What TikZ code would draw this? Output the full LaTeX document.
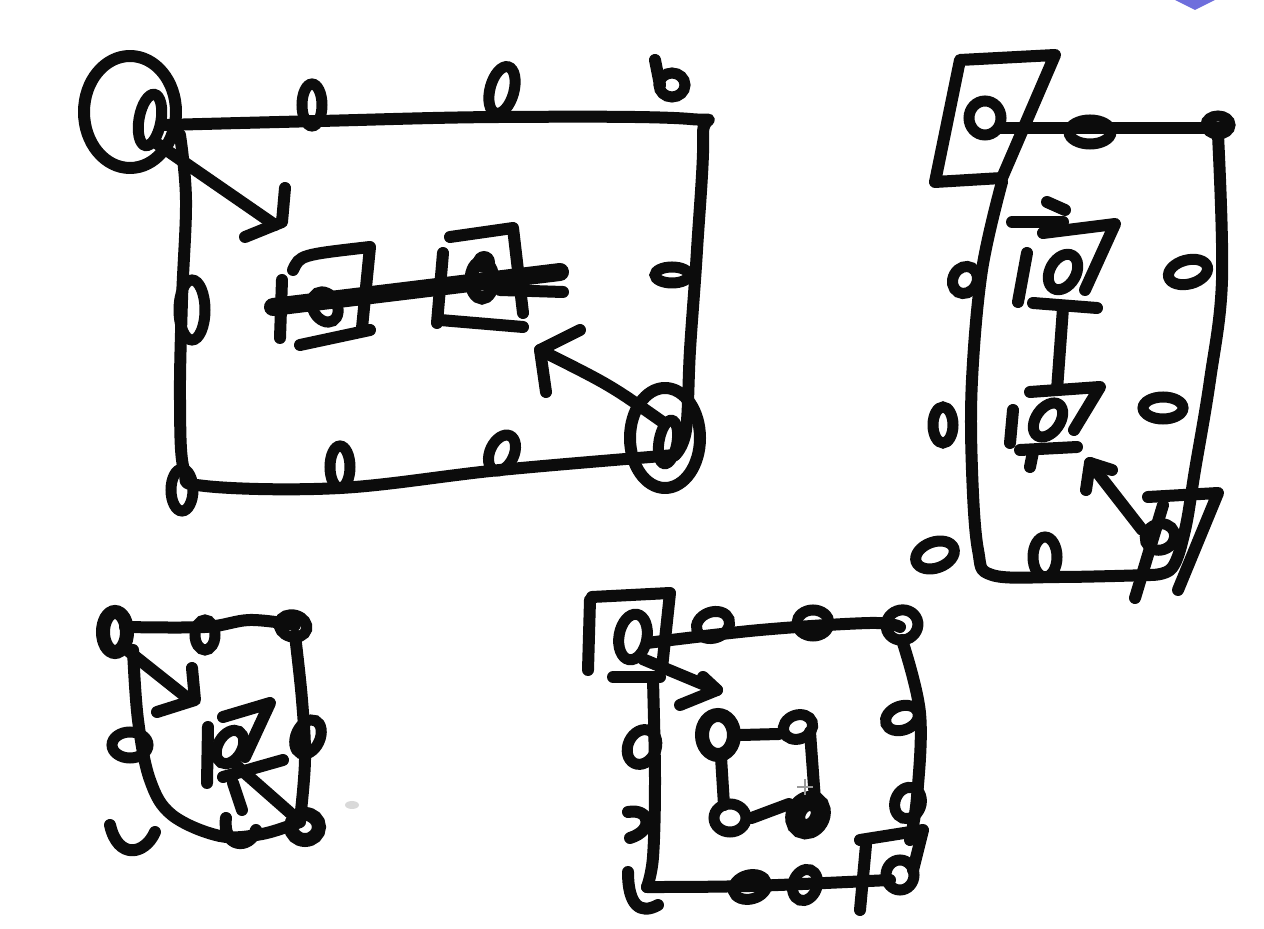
\documentclass[tikz,border=0pt]{standalone}
\usetikzlibrary{shapes.geometric}
\definecolor{ink}{RGB}{12,12,12}
\definecolor{logo}{RGB}{110,110,220}
\tikzset{
  pen/.style={draw=ink, line width=6pt, line cap=round, line join=round},
  zero/.style 2 args={ellipse, draw=ink, line width=5.5pt, inner sep=0pt,
     minimum width={#1*0.5pt}, minimum height={#2*0.5pt}},
}
\begin{document}
\begin{tikzpicture}[x=0.5pt,y=-0.5pt]
\useasboundingbox[fill=white] (0,0) rectangle (1264,929);
% ---------- corner marks ----------
\fill[logo] (1175,0) -- (1215,0) -- (1195,10) -- cycle;
\fill[black!15] (352,805) ellipse (7 and 4);
% ================= PANEL 1 =================
\draw[pen] (130,112) ellipse (46 and 56);
\node[zero={22}{52}, rotate=-10] (p1tl) at (150,120) {};
\draw[pen] plot[smooth, tension=0.6] coordinates {(165,125) (320,121) (500,117) (690,119) (703,135) (697,250) (690,350) (686,430) (675,455)};
\draw[pen] plot[smooth, tension=0.6] coordinates {(675,455) (500,470) (340,488) (205,486) (184,470) (180,400) (182,300) (186,200) (180,135)};
\node[zero={20}{42}] (p1t1) at (312,105) {};
\node[zero={24}{48}, rotate=-15] (p1t2) at (502,90) {};
\node[zero={26}{24}] (p1t3) at (672,85) {};
\draw[pen] (655,60) -- (660,85);
\node[zero={34}{16}] (p1r1) at (672,275) {};
\draw[pen] (665,438) ellipse (35 and 50);
\node[zero={18}{44}, rotate=-10] (p1br) at (668,442) {};
\node[zero={20}{42}] (p1b1) at (340,467) {};
\node[zero={24}{38}, rotate=-25] (p1b2) at (502,453) {};
\node[zero={22}{42}] (p1bl) at (182,490) {};
\node[zero={26}{60}] (p1l1) at (192,310) {};
% arrows
\draw[pen] (p1tl.south east) -- (275,225);
\draw[pen] (285,188) -- (282,222) -- (245,237);
\draw[pen] (p1br.north west) .. controls (610,385) .. (540,350);
\draw[pen] (580,330) -- (540,350) -- (546,392);
% inner squares
\draw[pen] (282,280) -- (280,338);
\draw[pen] (293,270) .. controls (300,255) .. (370,247) -- (362,328);
\draw[pen] (300,345) -- (370,330);
\node[zero={24}{32}, rotate=30] (p1s1) at (325,307) {};
\draw[pen] (443,253) -- (437,323);
\draw[pen] (450,237) -- (513,228) -- (523,313);
\draw[pen] (440,320) -- (523,327);
\node[zero={22}{36}, line width=6.5pt] (p1s2) at (482,280) {};
\fill[ink] (484,262) circle (11);
\draw[draw=ink, line width=9pt, line cap=round] (273,307) -- (560,272);
\draw[pen] (500,290) -- (563,292);
% ================= PANEL 2 =================
\draw[pen] (960,60) -- (1055,55) -- (1002,178) -- (935,182) -- cycle;
\node[zero={32}{34}] (p2tl) at (985,118) {};
\draw[pen] (1000,128) -- (1225,128);
\node[zero={42}{24}] (p2t1) at (1090,132) {};
\node[zero={24}{18}] (p2t2) at (1218,125) {};
\draw[pen] plot[smooth, tension=0.6] coordinates {(1218,135) (1222,280) (1210,380) (1195,470) (1185,530) (1172,568) (1150,575)};
\draw[pen] plot[smooth, tension=0.6] coordinates {(1150,575) (1060,577) (992,575) (978,550) (972,470) (972,380) (982,270) (1002,182)};
\node[zero={24}{28}, rotate=-30] (p2l1) at (965,280) {};
\node[zero={20}{36}] (p2l2) at (943,425) {};
\node[zero={40}{26}, rotate=20] (p2l3) at (935,555) {};
\node[zero={40}{24}, rotate=15] (p2r1) at (1188,272) {};
\node[zero={40}{22}] (p2r2) at (1163,408) {};
\node[zero={24}{40}] (p2b1) at (1045,557) {};
% inner squares
\draw[pen] (1012,222) -- (1063,222);
\draw[pen] (1047,202) -- (1065,210);
\draw[pen] (1043,233) -- (1115,224) -- (1085,290);
\draw[pen] (1027,253) -- (1018,302);
\node[zero={26}{38}, rotate=-30] (p2s1) at (1063,272) {};
\draw[pen] (1033,303) -- (1097,308);
\draw[pen] (1063,308) -- (1057,390);
\draw[pen] (1030,392) -- (1100,387) -- (1074,430);
\draw[pen] (1013,410) -- (1010,443);
\node[zero={24}{38}, rotate=-35] (p2s2) at (1048,420) {};
\draw[pen] (1020,450) -- (1077,447);
\draw[pen] (1033,452) -- (1030,467);
% bottom-right box and arrow
\draw[pen] (1148,497) -- (1218,493) -- (1178,590);
\draw[pen] (1163,505) -- (1135,598);
\node[zero={30}{26}, rotate=20] (p2br) at (1160,537) {};
\draw[pen] (p2br.north west) -- (1090,463);
\draw[pen] (1112,470) -- (1090,463) -- (1086,490);
% ================= PANEL 3 =================
\node[zero={24}{40}, line width=7pt] (p3tl) at (115,632) {};
\draw[pen] plot[smooth, tension=0.6] coordinates {(125,627) (205,627) (250,620) (295,625)};
\node[zero={20}{30}] (p3t1) at (205,635) {};
\node[zero={28}{22}, rotate=-15] (p3t2) at (293,626) {};
\draw[pen] plot[smooth, tension=0.6] coordinates {(295,635) (302,700) (305,760) (300,820)};
\draw[pen] plot[smooth, tension=0.6] coordinates {(133,650) (138,720) (150,780) (172,815) (220,836) (262,834) (300,822)};
\node[zero={36}{26}] (p3l1) at (130,745) {};
\node[zero={24}{36}, rotate=-25] (p3r1) at (308,737) {};
\draw[pen] (110,825) .. controls (118,860) and (145,855) .. (155,832);
\draw[pen] (226,818) .. controls (222,848) and (250,850) .. (256,830);
\node[zero={28}{26}, line width=7pt] (p3br) at (305,827) {};
\draw[pen] (p3tl.south east) -- (190,700);
\draw[pen] (192,668) -- (195,700) -- (157,712);
\draw[pen] (223,717) -- (270,703) -- (245,757);
\draw[pen] (208,727) -- (207,783);
\node[zero={24}{36}, rotate=-30] (p3m) at (230,747) {};
\draw[pen] (p3br.north west) -- (238,767);
\draw[pen] (223,777) -- (283,760);
\draw[pen] (233,783) -- (242,810);
% ================= PANEL 4 =================
\draw[pen] (590,600) -- (588,670);
\draw[pen] (592,597) -- (670,593) -- (662,668);
\draw[pen] (613,677) -- (660,677);
\node[zero={28}{46}, rotate=-10] (p4tl) at (633,637) {};
\draw[pen] plot[smooth, tension=0.6] coordinates {(647,643) (760,630) (870,623) (900,627)};
\node[zero={34}{26}, rotate=20] (p4t1) at (713,625) {};
\node[zero={32}{26}] (p4t2) at (813,623) {};
\node[zero={32}{30}, rotate=20] (p4t3) at (902,625) {};
\draw[pen] plot[smooth, tension=0.6] coordinates {(902,640) (920,713) (917,797) (910,840)};
\node[zero={34}{24}, rotate=20] (p4r1) at (902,718) {};
\node[zero={26}{32}, rotate=-20] (p4r2) at (908,803) {};
\draw[pen] (860,840) -- (923,830) -- (913,870);
\draw[pen] (866,845) -- (860,910);
\node[zero={28}{30}] (p4br) at (900,875) {};
\draw[pen] plot[smooth, tension=0.6] coordinates {(647,887) (750,886) (890,880)};
\node[zero={34}{24}, rotate=15] (p4b1) at (750,887) {};
\node[zero={24}{32}, rotate=-20] (p4b2) at (805,885) {};
\draw[pen] plot[smooth, tension=0.6] coordinates {(653,680) (655,780) (653,857) (647,887)};
\node[zero={28}{36}, rotate=-25] (p4l1) at (642,747) {};
\draw[pen] (628,812) .. controls (650,808) and (655,830) .. (630,838);
\draw[pen] (628,872) .. controls (628,905) and (640,915) .. (658,905);
\draw[pen] (p4tl.south east) -- (717,690);
\draw[pen] (703,677) -- (717,690) -- (680,705);
\node[zero={32}{40}, line width=7pt] (p4c1) at (718,735) {};
\node[zero={30}{24}, rotate=20] (p4c2) at (798,727) {};
\node[zero={32}{28}] (p4c3) at (730,818) {};
\node[zero={24}{30}, line width=10pt, rotate=-30] (p4c4) at (808,815) {};
\draw[pen] (p4c1.east) -- (p4c2.west);
\draw[pen] (810,732) -- (815,800);
\draw[pen] (721,757) -- (724,805);
\draw[pen] (p4c3.east) -- (p4c4.west);
\draw[black!40, line width=0.8pt] (797,787) -- (813,787) (805,779) -- (805,795);
\end{tikzpicture}
\end{document}
